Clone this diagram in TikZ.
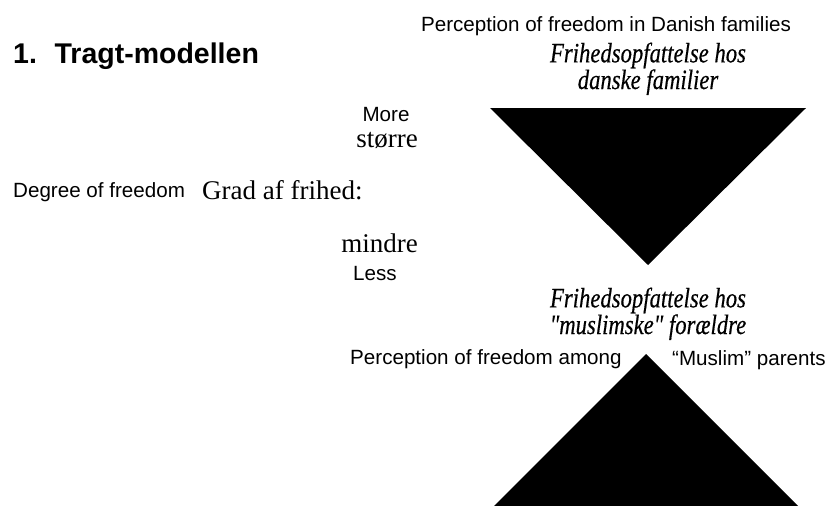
\documentclass[tikz,border=0pt]{standalone}
\usepackage{fontspec}
\setmainfont{Liberation Serif}
\newfontfamily\arialfont{Liberation Sans}
\newfontfamily\condfont{Liberation Serif}[FakeStretch=0.81,FakeBold=0.4]
\tikzset{
  en/.style={inner sep=0pt, text depth=0pt, font=\arialfont\fontsize{20.6}{24}\selectfont},
  da/.style={inner sep=0pt, text height=0.58em, text depth=0pt, font=\fontsize{27}{30}\selectfont},
  dait/.style={inner sep=0pt, align=center, font=\condfont\itshape\fontsize{28}{21}\selectfont},
  titlestyle/.style={inner sep=0pt, font=\arialfont\bfseries\fontsize{28.5}{32}\selectfont}
}
\begin{document}
\begin{tikzpicture}[x=1pt,y=-1pt]
\useasboundingbox[fill=white] (0,0) rectangle (828,506);
% triangles
\fill[black] (490,108) -- (806,108) -- (648,265) -- cycle;
\fill[black] (646,354) -- (798,506) -- (494,506) -- cycle;
% title
\node[titlestyle, anchor=base west] (title) at (13,63) {1.\hspace{0.62em}Tragt-modellen};
% top labels
\node[en, anchor=base] (topen) at (606,31) {Perception of freedom in Danish families};
\node[dait, anchor=base] (topda) at (648,89) {Frihedsopfattelse hos\\danske familier};
% scale labels
\node[en, anchor=base] (more) at (386,121.5) {More};
\node[da, anchor=base east] (storre) at (418,147) {større};
\node[en, anchor=base west] (degree) at (13,197) {Degree of freedom};
\node[da, anchor=base west] (grad) at (202,199) {Grad af frihed:};
\node[da, anchor=base east] (mindre) at (418,252) {mindre};
\node[en, anchor=base] (less) at (375,280) {Less};
% bottom labels
\node[dait, anchor=base] (botda) at (648,334) {Frihedsopfattelse hos\\"muslimske" forældre};
\node[en, anchor=base west] (boten1) at (350,364) {Perception of freedom among};
\node[en, anchor=base west] (boten2) at (672,365) {“Muslim” parents};
\end{tikzpicture}
\end{document}
